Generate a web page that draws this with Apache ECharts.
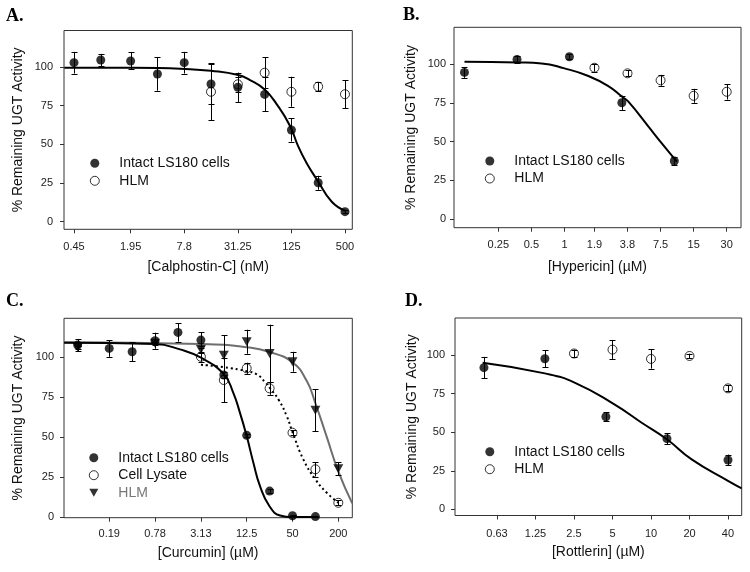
<!DOCTYPE html>
<html><head><meta charset="utf-8">
<script src="https://cdn.jsdelivr.net/npm/echarts@6/dist/echarts.min.js"></script>
<style>html,body{margin:0;padding:0;background:#fff}#c{width:750px;height:572px}</style>
</head><body><div id="c"></div><script>
// ---------- DATA ----------
const yTicks = [0, 25, 50, 75, 100];

// Panel A – Calphostin-C (nM)
const aTickVals = [0.45, 1.95, 7.8, 31.25, 125, 500];
const aTickLabels = ['0.45', '1.95', '7.8', '31.25', '125', '500'];
const aIntactDose = [0.45, 0.9, 1.95, 3.9, 7.8, 15.6, 31.25, 62.5, 125, 250, 500];
const aIntact = [102.8, 104.5, 103.9, 95.5, 102.8, 89, 86.9, 82.3, 59.3, 25.2, 6.5];
const aIntactErr = [7, 4, 5.5, 10.8, 7, 13, 9.5, 11, 7.5, 4.5, 1];
const aHlmDose = [15.6, 31.25, 62.5, 125, 250, 500];
const aHlm = [84, 88.8, 96.3, 84, 87.3, 82.4];
const aHlmErr = [18.5, 5, 10, 9.7, 3, 9];
const aFitDose = [0.35, 1, 4, 9.1, 15.6, 31.6, 42.8, 62, 86.8, 120.6, 149.5, 185, 250, 355, 500];
const aFit = [99.6, 99.5, 99.3, 98.5, 97.6, 94.8, 91.6, 85.6, 75.4, 61.9, 48.5, 38, 25.9, 12.9, 7.1];

// Panel B – Hypericin (µM)
const bTickVals = [0.25, 0.5, 1, 1.875, 3.75, 7.5, 15, 30];
const bTickLabels = ['0.25', '0.5', '1', '1.9', '3.8', '7.5', '15', '30'];
const bIntactDose = [0.123, 0.37, 1.11, 3.33, 10];
const bIntact = [94.6, 103, 104.7, 75, 37.4];
const bIntactErr = [3.5, 2.5, 1.5, 4.6, 2.5];
const bHlmDose = [1.875, 3.75, 7.5, 15, 30];
const bHlm = [97.6, 94, 89.5, 79.5, 82.1];
const bHlmErr = [2.5, 2, 3.5, 4.5, 5];
const bFitDose = [0.123, 0.38, 0.62, 1.0, 1.65, 2.51, 3.33, 3.82, 5.82, 7.7, 10.55];
const bFit = [101.5, 101, 100.4, 97.2, 92.3, 85.8, 79, 75.7, 59.6, 48.8, 37];

// Panel C – Curcumin (µM)
const cTickVals = [0.195, 0.78, 3.125, 12.5, 50, 200];
const cTickLabels = ['0.19', '0.78', '3.13', '12.5', '50', '200'];
const cIntactDose = [0.075, 0.195, 0.39, 0.78, 1.56, 3.125, 6.25, 12.5, 25, 50, 100];
const cIntact = [107.3, 105.2, 103.1, 110, 115.2, 110.4, 88.6, 51, 16.2, 0.8, 0.3];
const cIntactErr = [3.8, 5.2, 6, 5, 5.8, 5, 2, 1, 1, 0.5, 0.5];
const cLysDose = [3.125, 6.25, 12.5, 25, 50, 100, 200];
const cLys = [100, 85.5, 92.8, 80.3, 52.6, 29.8, 8.9];
const cLysErr = [3, 14, 3.5, 4, 1.5, 4.5, 1.5];
const cHlmDose = [0.075, 0.78, 3.125, 6.25, 12.5, 25, 50, 100, 200];
const cHlm = [106, 108.5, 104.6, 101, 109.4, 102, 96.9, 66.7, 30.1];
const cHlmErr = [1, 1, 2, 12.5, 7.5, 18, 6.2, 13, 4];
const cIntactFitDose = [0.0497, 0.78, 1.66, 3.13, 6.28, 8.33, 10.2, 12.5, 15.3, 18.7, 24.8, 34.3, 49.7, 99];
const cIntactFit = [108.7, 107.9, 104.6, 99.4, 89, 77.5, 65, 50.5, 33.9, 19.3, 6.9, 1, 0, 0];
const cLysFitDose = [3.13, 6.25, 12.5, 17, 21.6, 25.5, 33, 42, 50, 69.4, 100, 141, 200];
const cLysFit = [95, 93.5, 91, 89, 84.4, 80.3, 73, 63, 53, 36, 23.5, 15.2, 8.9];
const cHlmFitDose = [0.0497, 3.13, 12.5, 25, 50, 76.8, 100, 141, 200, 305];
const cHlmFit = [109, 108, 106, 103, 96.5, 85, 71, 50, 28.5, 8.5];

// Panel D – Rottlerin (µM)
const dTickVals = [0.625, 1.25, 2.5, 5, 10, 20, 40];
const dTickLabels = ['0.63', '1.25', '2.5', '5', '10', '20', '40'];
const dIntactDose = [0.494, 1.48, 4.44, 13.33, 40];
const dIntact = [91.8, 97.6, 60, 45.8, 32];
const dIntactErr = [7, 5.5, 3, 3.5, 3.5];
const dHlmDose = [2.5, 5, 10, 20, 40];
const dHlm = [101, 103.5, 97.5, 99.4, 78.4];
const dHlmErr = [2.5, 6, 6.3, 1.5, 2];
const dFitDose = [0.483, 1.48, 2.55, 5.17, 8.46, 13.3, 20.8, 40, 51.2];
const dFit = [95, 88.1, 82, 68, 56.1, 45.4, 32.4, 18.5, 13.6];

// ---------- HELPERS ----------
const L2 = Math.log2;
const FONT = 'Liberation Sans';
const pts = (dose, v) => dose.map((d, i) => [L2(d), v[i]]);
const ePts = (dose, v, e) => dose.map((d, i) => [L2(d), v[i], e[i]]);
function fmt(vals, labels) {
  return v => { let b = 0, bd = 1e9; vals.forEach((t, i) => { const d = Math.abs(L2(t) - v); if (d < bd) { bd = d; b = i; } }); return labels[b]; };
}
const OPEN = { color: 'rgba(0,0,0,0)', borderColor: '#000', borderWidth: 1 };
const FILLED = { color: '#000' };
const TRI = 'path://M0,0L10,0L5,9Z';

function errSeries(ix, data) {
  return {
    type: 'custom', xAxisIndex: ix, yAxisIndex: ix, data, z: 5, silent: true,
    renderItem(p, api) {
      const x = api.value(0), y = api.value(1), e = api.value(2);
      const t = api.coord([x, y + e]), b = api.coord([x, y - e]);
      const cx = Math.round(t[0]) + 0.5, c = 3;
      const st = { stroke: '#000', lineWidth: 1 };
      return { type: 'group', children: [
        { type: 'line', shape: { x1: cx, y1: t[1], x2: cx, y2: b[1] }, style: st },
        { type: 'line', shape: { x1: cx - c, y1: Math.round(t[1]) + 0.5, x2: cx + c, y2: Math.round(t[1]) + 0.5 }, style: st },
        { type: 'line', shape: { x1: cx - c, y1: Math.round(b[1]) + 0.5, x2: cx + c, y2: Math.round(b[1]) + 0.5 }, style: st }
      ] };
    }
  };
}
function scat(ix, name, data, style, symbol, size) {
  return { type: 'scatter', name, xAxisIndex: ix, yAxisIndex: ix, data, symbol: symbol || 'circle',
    symbolSize: size || 9, itemStyle: style, z: 4, silent: true };
}
function fit(ix, data, color, type) {
  return { type: 'line', xAxisIndex: ix, yAxisIndex: ix, data, smooth: 0.5,
    symbol: 'none', silent: true, z: 3, lineStyle: { color, width: 2, type: type || 'solid' } };
}

const grids = [
  { left: 64, top: 30.5, width: 288.3, height: 198.8 },
  { left: 454, top: 27.3, width: 287, height: 200.4 },
  { left: 64, top: 318.3, width: 288.3, height: 199.4 },
  { left: 455, top: 318, width: 286.7, height: 197.5 }
].map(g => Object.assign(g, { show: true, borderColor: '#333', borderWidth: 1, backgroundColor: 'transparent', outerBoundsMode: 'none' }));

const xCfg = [
  { min: -1.525, max: 9.239, vals: aTickVals, labels: aTickLabels, name: '[Calphostin-C] (nM)', gap: 31, margin: 12 },
  { min: -3.34, max: 5.339, vals: bTickVals, labels: bTickLabels, name: '[Hypericin] (µM)', gap: 32, margin: 12 },
  { min: -4.334, max: 8.255, vals: cTickVals, labels: cTickLabels, name: '[Curcumin] (µM)', gap: 28, margin: 11 },
  { min: -1.769, max: 5.678, vals: dTickVals, labels: dTickLabels, name: '[Rottlerin] (µM)', gap: 30, margin: 13 }
];
const yCfg = [
  { min: -4.9, max: 123.6, gap: 39, margin: 11 },
  { min: -5.6, max: 123.7, gap: 35.5, margin: 8 },
  { min: -0.4, max: 124, gap: 39, margin: 10 },
  { min: -4.0, max: 124, gap: 36, margin: 10 }
];

const xAxis = xCfg.map((c, i) => ({
  type: 'value', gridIndex: i, min: c.min, max: c.max,
  axisLine: { show: false, onZero: false }, splitLine: { show: false },
  axisTick: { show: true, length: 4, customValues: c.vals.map(L2), lineStyle: { color: '#333' } },
  axisLabel: { customValues: c.vals.map(L2), formatter: fmt(c.vals, c.labels), margin: c.margin,
    fontFamily: FONT, fontSize: 11, color: '#222' },
  name: c.name, nameLocation: 'middle', nameGap: c.gap,
  nameTextStyle: { fontFamily: FONT, fontSize: 14, color: '#111' }
}));
const yAxis = yCfg.map((c, i) => ({
  type: 'value', gridIndex: i, min: c.min, max: c.max,
  axisLine: { show: false, onZero: false }, splitLine: { show: false },
  axisTick: { show: true, length: 4, customValues: yTicks, lineStyle: { color: '#333' } },
  axisLabel: { customValues: yTicks, margin: c.margin, fontFamily: FONT, fontSize: 11, color: '#222' },
  name: '% Remaining UGT Activity', nameLocation: 'middle', nameGap: c.gap,
  nameTextStyle: { fontFamily: FONT, fontSize: 14, color: '#111' }
}));

const series = [
  // A
  fit(0, pts(aFitDose, aFit), '#000'),
  scat(0, 'HLM', pts(aHlmDose, aHlm), OPEN),
  scat(0, 'Intact LS180 cells', pts(aIntactDose, aIntact), FILLED),
  errSeries(0, ePts(aHlmDose, aHlm, aHlmErr)),
  errSeries(0, ePts(aIntactDose, aIntact, aIntactErr)),
  // B
  fit(1, pts(bFitDose, bFit), '#000'),
  scat(1, 'HLM', pts(bHlmDose, bHlm), OPEN),
  scat(1, 'Intact LS180 cells', pts(bIntactDose, bIntact), FILLED),
  errSeries(1, ePts(bHlmDose, bHlm, bHlmErr)),
  errSeries(1, ePts(bIntactDose, bIntact, bIntactErr)),
  // C
  fit(2, pts(cHlmFitDose, cHlmFit), '#6e6e6e'),
  fit(2, pts(cLysFitDose, cLysFit), '#000', [2, 3]),
  fit(2, pts(cIntactFitDose, cIntactFit), '#000'),
  scat(2, 'HLM ', pts(cHlmDose, cHlm), FILLED, TRI, [10, 9]),
  scat(2, 'Cell Lysate', pts(cLysDose, cLys), OPEN),
  scat(2, 'Intact LS180 cells', pts(cIntactDose, cIntact), FILLED),
  errSeries(2, ePts(cHlmDose, cHlm, cHlmErr)),
  errSeries(2, ePts(cLysDose, cLys, cLysErr)),
  errSeries(2, ePts(cIntactDose, cIntact, cIntactErr)),
  // D
  fit(3, pts(dFitDose, dFit), '#000'),
  scat(3, 'HLM', pts(dHlmDose, dHlm), OPEN),
  scat(3, 'Intact LS180 cells', pts(dIntactDose, dIntact), FILLED),
  errSeries(3, ePts(dHlmDose, dHlm, dHlmErr)),
  errSeries(3, ePts(dIntactDose, dIntact, dIntactErr))
];

const legText = { fontFamily: FONT, fontSize: 14, color: '#111', lineHeight: 14, padding: [0, 0, 0, 15] };
function leg(left, top, items) {
  return { left, top, orient: 'vertical', itemWidth: 9, itemHeight: 9, itemGap: 3.5, padding: 0,
    selectedMode: false, textStyle: legText, data: items };
}
const itFilled = { name: 'Intact LS180 cells', icon: 'circle', itemStyle: { color: '#000', borderWidth: 0 } };
const itOpen = n => ({ name: n, icon: 'circle', itemStyle: { color: 'rgba(0,0,0,0)', borderColor: '#000', borderWidth: 1 } });

const option = {
  animation: false,
  backgroundColor: '#fff',
  title: [
    { text: 'A.', left: 6, top: 7 }, { text: 'B.', left: 403, top: 6 },
    { text: 'C.', left: 6, top: 292 }, { text: 'D.', left: 405, top: 292 }
  ].map(t => Object.assign(t, { padding: 0, textStyle: { fontFamily: 'Liberation Serif', fontWeight: 'bold', fontSize: 18, color: '#000' } })),
  grid: grids, xAxis, yAxis, series,
  legend: [
    leg(89.8, 156.3, [itFilled, itOpen('HLM')]),
    leg(484.8, 154, [itFilled, itOpen('HLM')]),
    leg(88.8, 450.7, [itFilled, itOpen('Cell Lysate'),
      { name: 'HLM ', icon: TRI, itemStyle: { color: '#000', borderWidth: 0 }, textStyle: { color: '#777' } }]),
    leg(484.8, 444.7, [itFilled, itOpen('HLM')])
  ]
};
const chart = echarts.init(document.getElementById('c'), null, { renderer: 'canvas' });
chart.setOption(option);
</script></body></html>
